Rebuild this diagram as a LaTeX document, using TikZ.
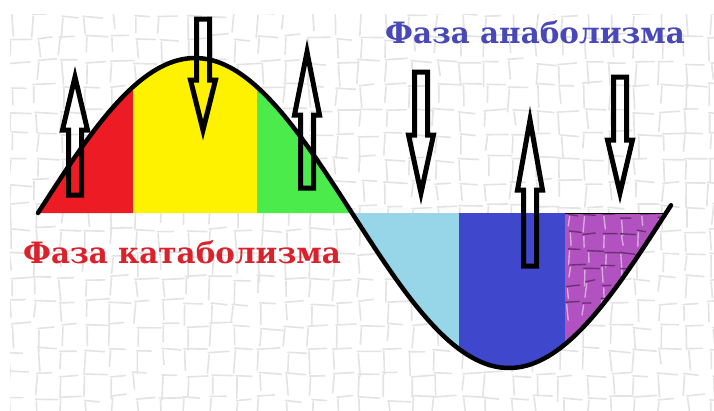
\documentclass[tikz,border=0pt]{standalone}
\usepackage{fontspec}
\newfontfamily\phasefont{DejaVu Serif}
\definecolor{catred}{RGB}{237,28,36}
\definecolor{catyellow}{RGB}{255,242,0}
\definecolor{catgreen}{RGB}{76,235,76}
\definecolor{anaturq}{RGB}{150,214,232}
\definecolor{anablue}{RGB}{63,72,204}
\definecolor{anapurple}{RGB}{178,82,192}
\definecolor{catabtext}{RGB}{218,34,44}
\definecolor{anabtext}{RGB}{72,72,184}

\begin{document}
\begin{tikzpicture}[x=1pt,y=-1pt,
  curve/.style={line width=4.5pt,black,line cap=round},
  blockarrow/.style={line width=5pt,black},
  texline/.style={line width=1.6pt,black!11,line cap=round},
  purpline/.style={line width=1.4pt,line cap=round},
  phase/.style={font=\phasefont\bfseries\fontsize{29.4}{29.4}\selectfont,anchor=base west,inner sep=0pt}]
\useasboundingbox (0,0) rectangle (714,410);
\fill[white] (0,0) rectangle (714,410);
% paper texture
\pgfmathsetseed{42}
\begin{scope}
\clip (10,14) rectangle (714,410);
\foreach \i in {0,...,28}
  \foreach \j in {0,...,16}{
    \pgfmathsetmacro\px{10+25*\i+3*rand}
    \pgfmathsetmacro\py{14+24*\j+3*rand}
    \draw[texline] (\px,\py) -- ++(19+5*rand,2*rand);
    \draw[texline] (\px+1,\py+2) -- ++(2*rand,18+5*rand);
  }
\end{scope}
% coloured bands under the wave
\foreach \a/\b/\c in {38/133/catred,133/257/catyellow,257/352/catgreen,352/459/anaturq,459/565/anablue,565/666/anapurple}
  \fill[\c] (\a,213) -- plot[domain=\a:\b,samples=40] (\x,{213-155*sin((\x-38)/314*180)}) -- (\b,213) -- cycle;
\begin{scope}
\clip (565,213) -- plot[domain=565:666,samples=30] (\x,{213-155*sin((\x-38)/314*180)}) -- cycle;
\foreach \i in {0,...,5}
  \foreach \j in {0,...,5}{
    \pgfmathsetmacro\px{567+18*\i+3*rand}
    \pgfmathsetmacro\py{216+17*\j+3*rand}
    \draw[purpline,anapurple!60!black] (\px,\py) -- ++(12+4*rand,2*rand);
    \draw[purpline,anapurple!50!white] (\px+1,\py+2) -- ++(2*rand,12+4*rand);
  }
\end{scope}
\draw[black,line width=1pt] (565,213) -- (666,213);
\draw[curve] plot[domain=38:671,samples=150] (\x,{213-155*sin((\x-38)/314*180)});
% hollow arrows: centre / tail / head base / tip
\foreach \cx/\ya/\yb/\yc in {75/195/130/77,203/19/80/130,307/188/115/52,421/72/135/193,530/266/190/120,620/77/140/193}
  \draw[blockarrow] (\cx-6.5,\ya) -- (\cx-6.5,\yb) -- (\cx-12.5,\yb) -- (\cx,\yc)
    -- (\cx+12.5,\yb) -- (\cx+6.5,\yb) -- (\cx+6.5,\ya) -- cycle;
\node[phase,text=catabtext] (catab) at (23,263) {Фаза катаболизма};
\node[phase,text=anabtext] (anab) at (385,43) {Фаза анаболизма};
\end{tikzpicture}
\end{document}
